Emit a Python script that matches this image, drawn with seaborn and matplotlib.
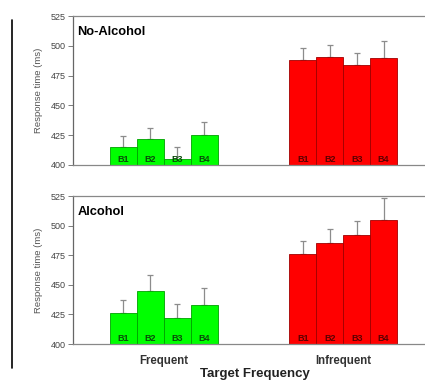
import numpy as np
import pandas as pd
import matplotlib
matplotlib.use("Agg")
import matplotlib.pyplot as plt
import seaborn as sns
from matplotlib.lines import Line2D

# ---- data ----
panels = ["No-Alcohol", "Alcohol"]
frequencies = ["Frequent", "Infrequent"]
blocks = ["B1", "B2", "B3", "B4"]

no_alc_frequent = [415, 422, 405, 425]
no_alc_frequent_err = [9, 9, 10, 11]
no_alc_infrequent = [488, 491, 484, 490]
no_alc_infrequent_err = [10, 10, 10, 14]

alc_frequent = [426, 445, 422, 433]
alc_frequent_err = [11, 13, 12, 14]
alc_infrequent = [476, 485, 492, 505]
alc_infrequent_err = [11, 12, 12, 18]

yticks = [400, 425, 450, 475, 500, 525]

rows = []
for p, (fv, fe, iv, ie) in zip(panels, [
        (no_alc_frequent, no_alc_frequent_err, no_alc_infrequent, no_alc_infrequent_err),
        (alc_frequent, alc_frequent_err, alc_infrequent, alc_infrequent_err)]):
    for b, v, e in zip(blocks, fv, fe):
        rows.append(dict(panel=p, freq="Frequent", block=b, rt=v, err=e))
    for b, v, e in zip(blocks, iv, ie):
        rows.append(dict(panel=p, freq="Infrequent", block=b, rt=v, err=e))
df = pd.DataFrame(rows)

sns.set_theme(style="white")
plt.rcParams["font.family"] = ["Liberation Sans", "DejaVu Sans"]

fig = plt.figure(figsize=(4.25, 3.8), dpi=100)
axes = [fig.add_axes([0.1718, 0.5658, 0.83, 0.392]),
        fig.add_axes([0.1718, 0.0947, 0.83, 0.3895])]

face = {"Frequent": "#00ff00", "Infrequent": "#ff0000"}
edge = {"Frequent": "#00a000", "Infrequent": "#a00000"}
txtc = {"Frequent": "#0a4a0a", "Infrequent": "#5a0000"}

for ax, p in zip(axes, panels):
    d = df[df.panel == p]
    sns.barplot(data=d, x="freq", y="rt", hue="block", order=frequencies,
                hue_order=blocks, width=0.6, gap=0, errorbar=None,
                legend=False, ax=ax, zorder=2)
    bar_containers = list(ax.containers)
    for bi, cont in enumerate(bar_containers):
        for bar in list(cont):
            cx = bar.get_x() + bar.get_width() / 2
            fi = int(round(cx))
            fname = frequencies[fi]
            bar.set_facecolor(face[fname])
            bar.set_edgecolor(edge[fname])
            bar.set_linewidth(0.6)
            row = d[(d.freq == fname) & (d.block == blocks[bi])].iloc[0]
            ax.errorbar(cx, bar.get_height(), yerr=[[0], [row.err]],
                        fmt="none", ecolor="#8c8c8c", elinewidth=0.9,
                        capsize=2.5, capthick=0.9, zorder=1)
            ax.text(cx, 401.0, blocks[bi], ha="center", va="bottom",
                    fontsize=6.5, fontweight="heavy", color=txtc[fname],
                    zorder=3)
    ax.set_ylim(400, 525)
    ax.set_xlim(-0.506, 1.46)
    ax.set_yticks(yticks)
    ax.set_yticklabels([str(t) for t in yticks], fontsize=6.5, color="#444444")
    ax.tick_params(axis="y", which="both", left=True, length=3.5, width=0.6,
                   color="#666666", pad=2)
    ax.tick_params(axis="x", bottom=False, length=0)
    ax.set_ylabel("Response time (ms)", fontsize=6.8, color="#555555", labelpad=5)
    ax.set_xlabel("")
    for s in ["left", "bottom", "top"]:
        ax.spines[s].set_visible(True)
        ax.spines[s].set_color("#888888")
        ax.spines[s].set_linewidth(0.9)
    ax.spines["left"].set_color("#666666")
    ax.spines["right"].set_visible(False)
    ax.text(0.012, 0.895, p, transform=ax.transAxes, fontsize=9.3,
            fontweight="bold", color="black", ha="left", va="center")

axes[0].set_xticklabels([])
axes[1].set_xticklabels(frequencies, fontsize=8.3, fontweight="bold",
                        color="#333333")
axes[1].tick_params(axis="x", pad=8)
fig.text(0.6, 0.0, "Target Frequency", ha="center", va="bottom",
         fontsize=9.5, fontweight="bold", color="#222222")

fig.add_artist(Line2D([12 / 425, 12 / 425], [1 - 20 / 380, 1 - 368 / 380],
                      transform=fig.transFigure, color="black", lw=1.2))

fig.savefig("out.png", dpi=100)
